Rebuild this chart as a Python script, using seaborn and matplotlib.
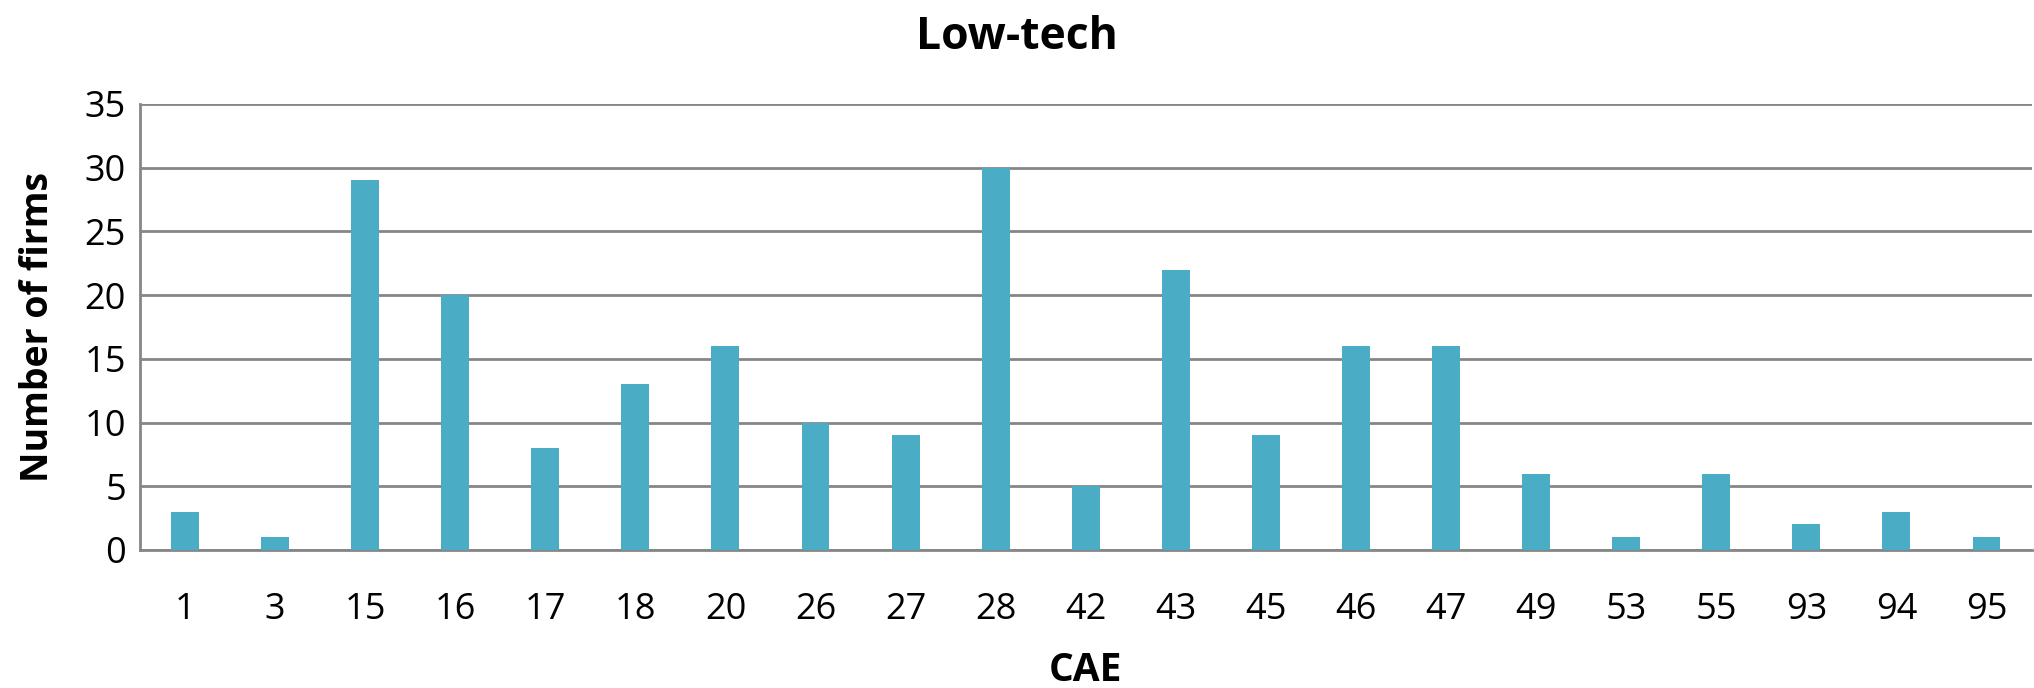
import matplotlib
matplotlib.use("Agg")
import matplotlib.pyplot as plt
import seaborn as sns
import pandas as pd

cae = ["1", "3", "15", "16", "17", "18", "20", "26", "27", "28", "42",
       "43", "45", "46", "47", "49", "53", "55", "93", "94", "95"]
firms = [3, 1, 29, 20, 8, 13, 16, 10, 9, 30, 5,
         22, 9, 16, 16, 6, 1, 6, 2, 3, 1]

sns.set_theme(style="white")
plt.rcParams['font.family'] = ['Open Sans', 'DejaVu Sans']
plt.rcParams['text.color'] = 'black'
plt.rcParams['axes.labelcolor'] = 'black'

df = pd.DataFrame({"CAE": cae, "Number of firms": firms})

fig = plt.figure(figsize=(20.34, 6.88), dpi=100)
ax = fig.add_axes([0.0688, 0.2006, 0.930, 0.6484])

sns.barplot(data=df, x="CAE", y="Number of firms", color="#4BACC6",
            width=0.31, saturation=1, ax=ax, zorder=3, linewidth=0)

ax.set_ylim(0, 35)
ax.set_yticks(range(0, 36, 5))
ax.set_xlim(-0.5, len(cae) - 0.5)
ax.yaxis.grid(True, color="#868686", linewidth=2, zorder=0)
ax.set_axisbelow(True)
for s in ["top", "right"]:
    ax.spines[s].set_visible(False)
ax.spines["left"].set_color("#868686")
ax.spines["left"].set_linewidth(2)
ax.spines["bottom"].set_color("#868686")
ax.spines["bottom"].set_linewidth(2)
ax.tick_params(axis="both", length=0, labelsize=26, colors="black")
ax.tick_params(axis="x", pad=30)
ax.tick_params(axis="y", pad=10)

ax.set_xlabel("CAE", fontsize=28, fontweight="bold", labelpad=17, color="black")
ax.set_ylabel("Number of firms", fontsize=27, fontweight="bold", labelpad=20, color="black")
fig.suptitle("Low-tech", fontsize=32, fontweight="bold", y=0.978, color="black")

fig.savefig("out.png", dpi=100)
